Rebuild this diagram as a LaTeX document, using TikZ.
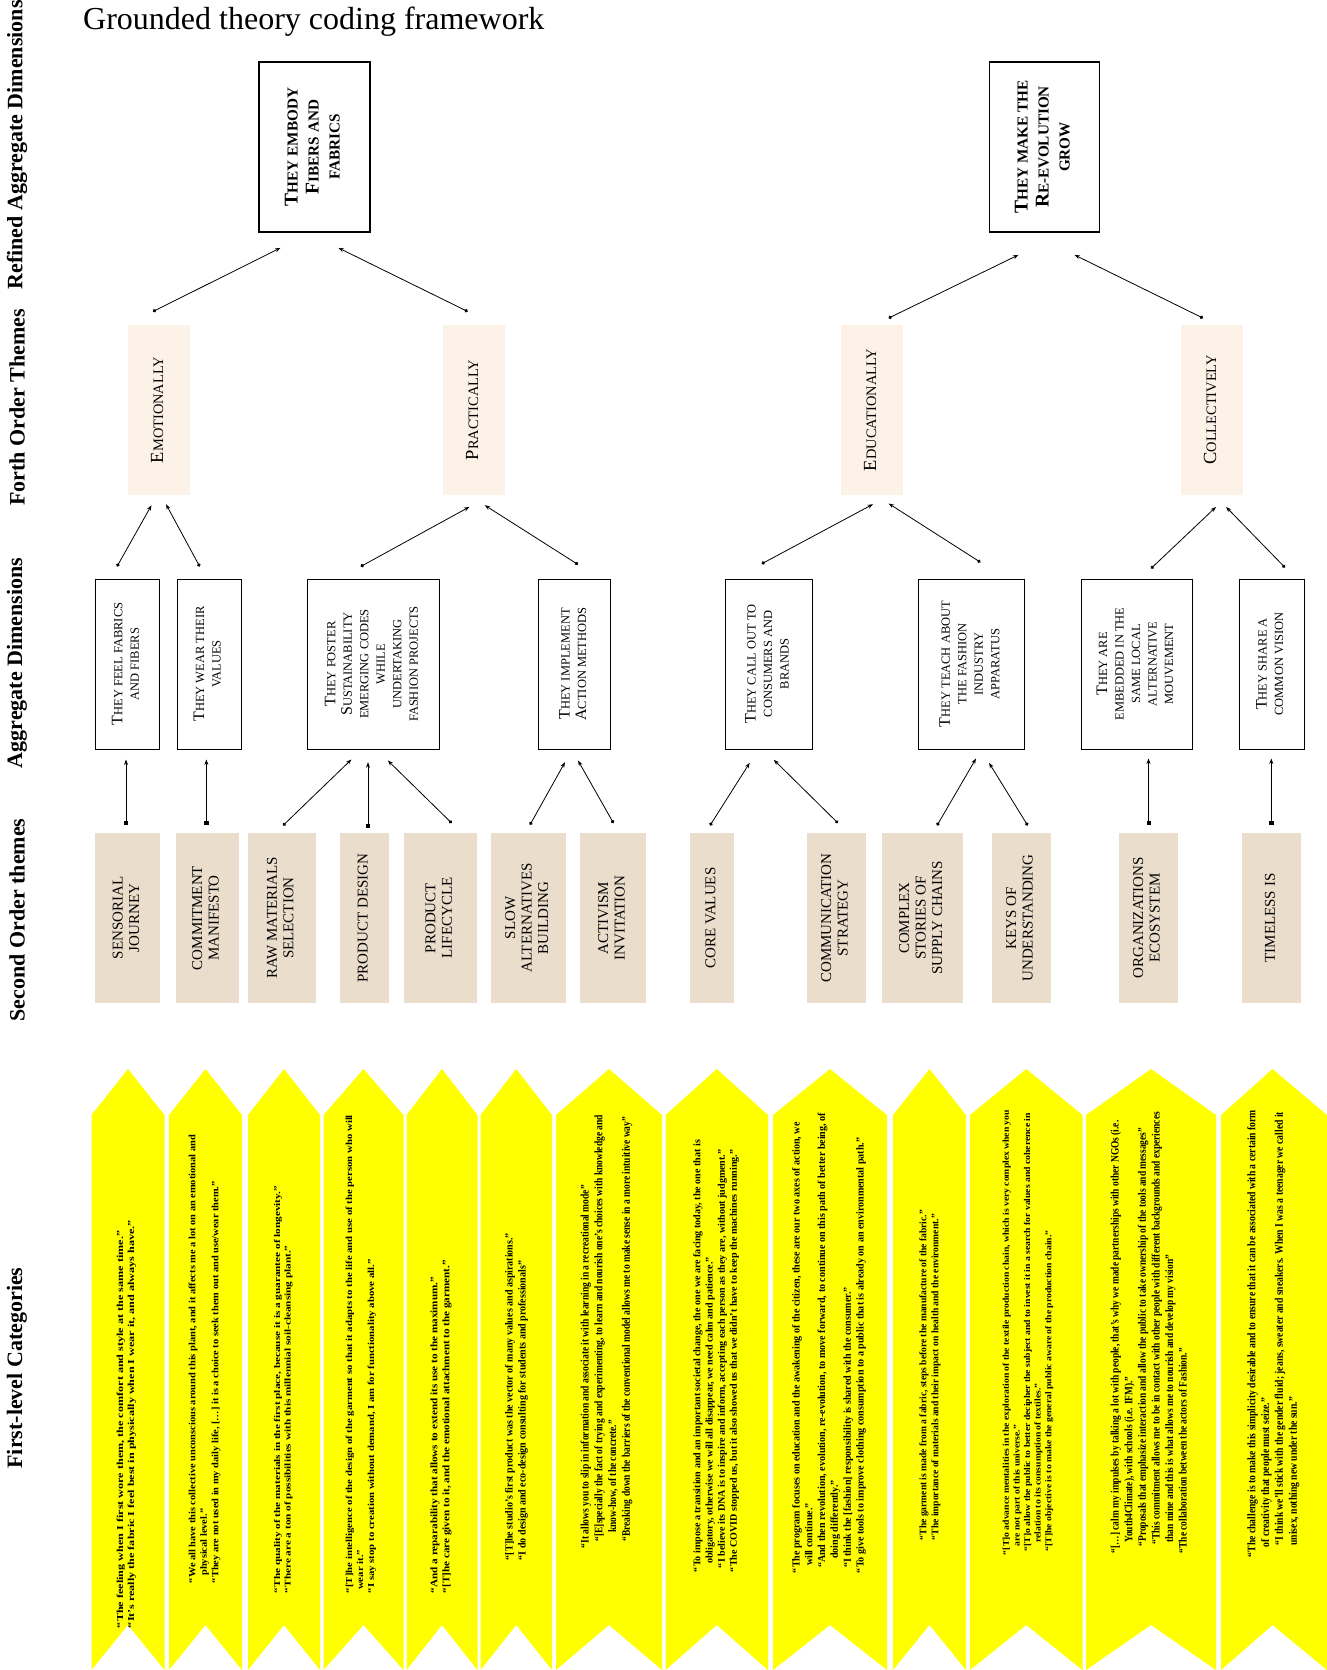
\documentclass[tikz,border=0pt]{standalone}
\usepackage{fontspec}
\setmainfont{Liberation Serif}
\usepackage{graphicx}
\usetikzlibrary{arrows.meta}

\definecolor{peach}{HTML}{FDF2E7}
\definecolor{sand}{HTML}{EADDCB}
\definecolor{quoteyellow}{HTML}{FFFF00}

% reduced capitals (small-caps look)
\newcommand\sm[1]{\scalebox{0.78}{#1}}
% centred lines, turned to read bottom to top
\newcommand\vtext[1]{\rotatebox{90}{\begin{tabular}{@{}c@{}}#1\end{tabular}}}
% block of quotes fitted to a given length and thickness, turned upright
\newcommand\quoteblock[3]{\rotatebox{90}{\resizebox*{#1pt}{#2pt}{\bfseries\begin{tabular}{@{}l@{}}#3\end{tabular}}}}
\newcommand\ind[1]{\hspace*{#1pt}}
% yellow chevron strip: left edge, right edge, tip position
\newcommand\chevron[3]{\fill[quoteyellow] (#1,1115) -- (#3,1069) -- (#2,1115) -- (#2,1670) -- (#3,1625) -- (#1,1670) -- cycle;}

\tikzset{
  topbox/.style={draw=black, line width=1.2pt, fill=white, inner sep=0pt, minimum height=170pt,
    font=\fontsize{19.5}{21}\selectfont\bfseries},
  forthbox/.style={fill=peach, inner sep=0pt, minimum width=62pt, minimum height=170pt,
    font=\fontsize{18.5}{20}\selectfont},
  aggbox/.style={draw=black, line width=1pt, fill=white, inner sep=0pt, minimum height=170pt,
    font=\fontsize{16}{16.5}\selectfont},
  secbox/.style={fill=sand, inner sep=0pt, minimum height=170pt,
    font=\fontsize{15}{16.5}\selectfont},
  rowlabel/.style={font=\fontsize{22}{24}\selectfont\bfseries, inner sep=0pt},
  quote/.style={inner sep=0pt},
  link/.style={line width=0.8pt, {Circle[length=3.5pt]}-{Stealth[length=5.5pt,width=4pt]}},
  vlink/.style={line width=0.8pt, {Square[length=4pt]}-{Stealth[length=5.5pt,width=4pt]}},
}

\begin{document}
\begin{tikzpicture}[x=1pt,y=-1pt]
\fill[white] (0,0) rectangle (1327,1670);
\useasboundingbox (0,0) rectangle (1327,1670);

% title and row labels
\node[anchor=base west, font=\fontsize{32}{38}\selectfont, inner sep=0pt] (title) at (83,30) {Grounded theory coding framework};
\node[rowlabel, rotate=90] (lab1) at (17,145) {Refined Aggregate Dimensions};
\node[rowlabel, rotate=90] (lab2) at (17,407.5) {Forth Order Themes};
\node[rowlabel, rotate=90] (lab3) at (17,663) {Aggregate Dimensions};
\node[rowlabel, rotate=90] (lab4) at (17,920) {Second Order themes};
\node[rowlabel, rotate=90] (lab5) at (17,1368) {First-level Categories};

% refined aggregate dimensions
\node[topbox, minimum width=111pt] (top1) at (314.5,147) {\vtext{T\sm{HEY EMBODY}\\F\sm{IBERS AND}\\\sm{FABRICS}}};
\node[topbox, minimum width=110pt] (top2) at (1044.5,147) {\vtext{T\sm{HEY MAKE THE}\\R\sm{E-EVOLUTION}\\\sm{GROW}}};

% forth order themes
\node[forthbox] (emo) at (159,410) {\vtext{E\sm{MOTIONALLY}}};
\node[forthbox] (pra) at (474,410) {\vtext{P\sm{RACTICALLY}}};
\node[forthbox] (edu) at (872,410) {\vtext{E\sm{DUCATIONALLY}}};
\node[forthbox] (col) at (1212,410) {\vtext{C\sm{OLLECTIVELY}}};

% aggregate dimensions
\node[aggbox, minimum width=63.6pt] (feel) at (127.4,664) {\vtext{T\sm{HEY FEEL FABRICS}\\\sm{AND FIBERS}}};
\node[aggbox, minimum width=64pt] (wear) at (209,664) {\vtext{T\sm{HEY WEAR THEIR}\\\sm{VALUES}}};
\node[aggbox, minimum width=131.5pt] (fost) at (373.3,664) {\vtext{T\sm{HEY FOSTER}\\S\sm{USTAINABILITY}\\\sm{EMERGING CODES}\\\sm{WHILE}\\\sm{UNDERTAKING}\\\sm{FASHION PROJECTS}}};
\node[aggbox, minimum width=71.8pt] (impl) at (574.6,664) {\vtext{T\sm{HEY IMPLEMENT}\\A\sm{CTION METHODS}}};
\node[aggbox, minimum width=86.4pt] (call) at (768.8,664) {\vtext{T\sm{HEY CALL OUT TO}\\\sm{CONSUMERS AND}\\\sm{BRANDS}}};
\node[aggbox, minimum width=106.4pt] (teach) at (971.2,664) {\vtext{T\sm{HEY TEACH ABOUT}\\\sm{THE FASHION}\\\sm{INDUSTRY}\\\sm{APPARATUS}}};
\node[aggbox, minimum width=110.3pt] (emb) at (1136.9,664) {\vtext{T\sm{HEY ARE}\\\sm{EMBEDDED IN THE}\\\sm{SAME LOCAL}\\\sm{ALTERNATIVE}\\\sm{MOUVEMENT}}};
\node[aggbox, minimum width=65pt] (share) at (1271.5,664) {\vtext{T\sm{HEY SHARE A}\\\sm{COMMON VISION}}};

% second order themes
\node[secbox, minimum width=65pt] (sens) at (127.5,918) {\vtext{SENSORIAL\\JOURNEY}};
\node[secbox, minimum width=63.2pt] (comm) at (207.1,918) {\vtext{COMMITMENT\\MANIFESTO}};
\node[secbox, minimum width=68pt] (raw) at (281.7,918) {\vtext{RAW MATERIALS\\SELECTION}};
\node[secbox, minimum width=48.6pt] (pdes) at (364.3,918) {\vtext{PRODUCT DESIGN}};
\node[secbox, minimum width=73.2pt] (plife) at (440.4,918) {\vtext{PRODUCT\\LIFECYCLE}};
\node[secbox, minimum width=74.5pt] (slow) at (528.3,918) {\vtext{SLOW\\ALTERNATIVES\\BUILDING}};
\node[secbox, minimum width=66pt] (activ) at (613,918) {\vtext{ACTIVISM\\INVITATION}};
\node[secbox, minimum width=44pt] (core) at (712,918) {\vtext{CORE VALUES}};
\node[secbox, minimum width=59pt] (commstr) at (836,918) {\vtext{COMMUNICATION\\STRATEGY}};
\node[secbox, minimum width=80.6pt] (complex) at (922.3,918) {\vtext{COMPLEX\\STORIES OF\\SUPPLY CHAINS}};
\node[secbox, minimum width=59pt] (keys) at (1021,918) {\vtext{KEYS OF\\UNDERSTANDING}};
\node[secbox, minimum width=59pt] (org) at (1148,918) {\vtext{ORGANIZATIONS\\ECOSYSTEM}};
\node[secbox, minimum width=59pt] (time) at (1271.5,918) {\vtext{TIMELESS IS}};

% forth order -> refined
\draw[link] ([shift={(-6,-13.3)}]emo.north) -- ([shift={(-34,15.3)}]top1.south);
\draw[link] ([shift={(-6.3,-13.3)}]pra.north) -- ([shift={(23.9,15.3)}]top1.south);
\draw[link] ([shift={(16.6,-6.7)}]edu.north) -- ([shift={(-26,22.3)}]top2.south);
\draw[link] ([shift={(-9,-6.7)}]col.north) -- ([shift={(30,22.3)}]top2.south);

% aggregate -> forth order
\draw[link] ([shift={(-10.4,-12)}]feel.north) -- ([shift={(-7.5,10)}]emo.south);
\draw[link] ([shift={(-9.3,-12)}]wear.north) -- ([shift={(7,9)}]emo.south);
\draw[link] ([shift={(-12.6,-12)}]fost.north) -- ([shift={(-4.6,11.7)}]pra.south);
\draw[link] ([shift={(3.4,-14)}]impl.north) -- ([shift={(10.7,10)}]pra.south);
\draw[link] ([shift={(-7.1,-14.7)}]call.north) -- ([shift={(1,9)}]edu.south);
\draw[link] ([shift={(9.2,-16.3)}]teach.north) -- ([shift={(16.6,8.3)}]edu.south);
\draw[link] ([shift={(14.1,-10)}]emb.north) -- ([shift={(4,11.7)}]col.south);
\draw[link] ([shift={(13.5,-11)}]share.north) -- ([shift={(14,11.7)}]col.south);

% second order -> aggregate
\draw[vlink] ([shift={(-1.5,-8)}]sens.north) -- ([shift={(-1.4,10)}]feel.south);
\draw[vlink] ([shift={(-0.7,-8)}]comm.north) -- ([shift={(-2.6,10)}]wear.south);
\draw[link] ([shift={(1.3,-7.3)}]raw.north) -- ([shift={(-21.9,10)}]fost.south);
\draw[vlink] ([shift={(3.7,-5.3)}]pdes.north) -- ([shift={(-5.3,12.7)}]fost.south);
\draw[link] ([shift={(11.3,-9.7)}]plife.north) -- ([shift={(14.5,11)}]fost.south);
\draw[link] ([shift={(1.7,-8)}]slow.north) -- ([shift={(-9.6,12.7)}]impl.south);
\draw[link] ([shift={(0.5,-9.7)}]activ.north) -- ([shift={(3.4,11)}]impl.south);
\draw[link] ([shift={(-2,-7.3)}]core.north) -- ([shift={(-19.1,13.3)}]call.south);
\draw[link] ([shift={(2,-9.7)}]commstr.north) -- ([shift={(5,10.3)}]call.south);
\draw[link] ([shift={(14.7,-7.3)}]complex.north) -- ([shift={(4.8,9)}]teach.south);
\draw[link] ([shift={(6.7,-7.3)}]keys.north) -- ([shift={(17.8,13.3)}]teach.south);
\draw[vlink] ([shift={(0.5,-8)}]org.north) -- ([shift={(11.6,9)}]emb.south);
\draw[vlink] ([shift={(-0.2,-8)}]time.north) -- ([shift={(-0.2,9)}]share.south);

% first-level categories: chevrons
\chevron{91.5}{164.5}{128}
\chevron{169}{242}{205.5}
\chevron{248}{320}{284}
\chevron{323.5}{403.5}{363.5}
\chevron{406.5}{477.5}{442}
\chevron{480.5}{552}{516.25}
\chevron{556}{662}{609}
\chevron{665.5}{768}{716.75}
\chevron{773}{887}{830}
\chevron{893}{966}{929.5}
\chevron{970}{1082.5}{1026.25}
\chevron{1086}{1216}{1151}
\chevron{1221}{1327}{1272.5}

% first-level categories: quotes
\node[quote] (q1) at (126.5,1424) {\quoteblock{408}{22}{%
“The feeling when I first wore them, the comfort and style at the same time.”\\
“It's really the fabric I feel best in physically when I wear it, and always have.”}};
\node[quote] (q2) at (204.5,1359) {\quoteblock{448}{34.5}{%
“We all have this collective unconscious around this plant, and it affects me a lot on an emotional and\\
\ind{7}physical level.”\\
“They are not used in my daily life, […] it is a choice to seek them out and use/wear them.”}};
\node[quote] (q3) at (283.25,1389.5) {\quoteblock{407}{21}{%
“The quality of the materials in the first place, because it is a guarantee of longevity.”\\
“There are a ton of possibilities with this millennial soil-cleansing plant.”}};
\node[quote] (q4) at (361,1354) {\quoteblock{478}{33}{%
“[T]he intelligence of the design of the garment so that it adapts to the life and use of the person who will\\
\ind{3}wear it.”\\
“I say stop to creation without demand, I am for functionality above all.”}};
\node[quote] (q5) at (441,1426.5) {\quoteblock{333}{24}{%
“And a reparability that allows to extend its use to the maximum.”\\
“[T]he care given to it, and the emotional attachment to the garment.”}};
\node[quote] (q6) at (516.5,1396.5) {\quoteblock{327}{26}{%
“[T]he studio's first product was the vector of many values and aspirations.”\\
“I do design and eco-design consulting for students and professionals”}};
\node[quote] (q7) at (606.5,1331.5) {\quoteblock{433}{54.7}{%
“It allows you to slip in information and associate it with learning in a recreational mode”\\
\ind{7}“[E]specially the fact of trying and experimenting, to learn and nourish one's choices with knowledge and\\
\ind{16}know-how, of the concrete.”\\
\ind{7}“Breaking down the barriers of the conventional model allows me to make sense in a more intuitive way”}};
\node[quote] (q8) at (716.25,1356) {\quoteblock{432}{48.7}{%
“To impose a transition and an important societal change, the one we are facing today, the one that is\\
\ind{8}obligatory, otherwise we will all disappear, we need calm and patience.”\\
\ind{4}“I believe its DNA is to inspire and inform, accepting each person as they are, without judgment.”\\
“The COVID stopped us, but it also showed us that we didn't have to keep the machines running.”}};
\node[quote] (q9) at (829,1343) {\quoteblock{460}{76.8}{%
“The program focuses on education and the awakening of the citizen, these are our two axes of action, we\\
\ind{7}will continue.”\\
\ind{5}“And then revolution, evolution, re-evolution, to move forward, to continue on this path of better being, of\\
\ind{14}doing differently.”\\
\ind{5}“I think the [fashion] responsibility is shared with the consumer.”\\
“To give tools to improve clothing consumption to a public that is already on an environmental path.”}};
\node[quote] (q10) at (930,1375) {\quoteblock{330}{24}{%
“The garment is made from a fabric, steps before the manufacture of the fabric.”\\
“The importance of materials and their impact on health and the environment.”}};
\node[quote] (q11) at (1028,1332.5) {\quoteblock{445}{53}{%
“[T]o advance mentalities in the exploration of the textile production chain, which is very complex when you\\
\ind{9}are not part of this universe.”\\
\ind{4}“[T]o allow the public to better decipher the subject and to invest it in a search for values and coherence in\\
\ind{13}relation to its consumption of textiles.”\\
\ind{4}“[T]he objective is to make the general public aware of the production chain.”}};
\node[quote] (q12) at (1150,1332.5) {\quoteblock{441}{81.6}{%
“[…] calm my impulses by talking a lot with people, that's why we made partnerships with other NGOs (i.e.\\
\ind{11}Youth4Climate), with schools (i.e. IFM).”\\
\ind{7}“Proposals that emphasize interaction and allow the public to take ownership of the tools and messages”\\
\ind{9}“This commitment allows me to be in contact with other people with different backgrounds and experiences\\
\ind{11}than mine and this is what allows me to nourish and develop my vision”\\
“The collaboration between the actors of Fashion.”}};
\node[quote] (q13) at (1273.25,1333.5) {\quoteblock{447}{55.3}{%
“The challenge is to make this simplicity desirable and to ensure that it can be associated with a certain form\\
\ind{10}of creativity that people must seize.”\\
\ind{12}“I think we'll stick with the gender fluid; jeans, sweater and sneakers. When I was a teenager we called it\\
\ind{12}unisex, nothing new under the sun.”}};
\end{tikzpicture}
\end{document}
